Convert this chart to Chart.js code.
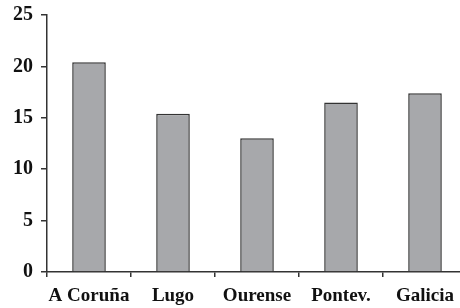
<!DOCTYPE html>
<html>
<head>
<meta charset="utf-8">
<script src="https://cdn.jsdelivr.net/npm/chart.js@4"></script>
<style>
  html, body { margin: 0; padding: 0; background: #fff; overflow: hidden; }
  .graphBox { width: 467px; height: 308px; position: relative; }
</style>
</head>
<body>
<div class="graphBox"><canvas id="chart"></canvas></div>
<script>
const provincias = ['A Coruña', 'Lugo', 'Ourense', 'Pontev.', 'Galicia'];
const valores = [20.4, 15.4, 13.0, 16.5, 17.4];
const yTicks = [0, 5, 10, 15, 20, 25];

const familia = '"Liberation Serif", "Times New Roman", serif';
const tinta = '#333';

new Chart(document.getElementById('chart'), {
  type: 'bar',
  data: {
    labels: provincias,
    datasets: [{
      data: valores,
      backgroundColor: '#a7a8ab',
      borderColor: tinta,
      borderWidth: 1.5,
      barPercentage: 0.4,
      categoryPercentage: 1
    }]
  },
  options: {
    responsive: true,
    maintainAspectRatio: false,
    animation: false,
    layout: { padding: { top: 15, left: 0, right: 0, bottom: 0 } },
    plugins: { legend: { display: false }, tooltip: { enabled: false } },
    scales: {
      x: {
        grid: { drawOnChartArea: false, color: tinta, lineWidth: 1.5, tickLength: 5 },
        border: { color: tinta, width: 1.5 },
        ticks: { color: '#111', font: { family: familia, size: 19, weight: 'bold' }, padding: 8, maxRotation: 0, autoSkip: false },
        afterFit: (scale) => { scale.height = 36; }
      },
      y: {
        min: yTicks[0],
        max: yTicks[yTicks.length - 1],
        afterBuildTicks: (scale) => { scale.ticks = yTicks.map(v => ({ value: v })); },
        grid: { drawOnChartArea: false, color: tinta, lineWidth: 1.5, tickLength: 6 },
        border: { color: tinta, width: 1.5 },
        ticks: { color: '#111', font: { family: familia, size: 20, weight: 'bold' }, padding: 8 },
        afterFit: (scale) => {
          scale.width = 47;
          // labels may overhang; the top padding comes from the layout instead
          scale.paddingTop = 0;
          scale.paddingBottom = 0;
        }
      }
    }
  }
});
</script>
</body>
</html>
